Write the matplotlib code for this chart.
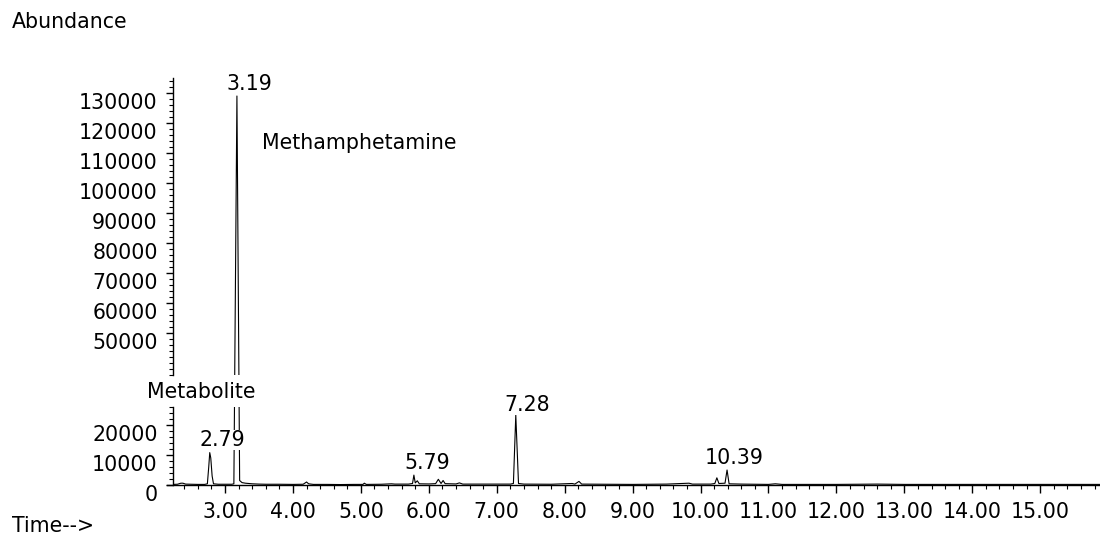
"""Total ion chromatogram with a broken abundance axis."""

import matplotlib

matplotlib.use("Agg")
import matplotlib.pyplot as plt
from matplotlib.ticker import MultipleLocator

plt.rcParams["font.family"] = ["DejaVu Sans"]
plt.rcParams["font.size"] = 14.8

# retention time (min) and abundance
times = [
    2.234, 2.30, 2.35, 2.38, 2.42, 2.50, 2.60, 2.70, 2.74, 2.76, 2.775, 2.79,
    2.81, 2.83, 2.90, 3.00, 3.10, 3.13, 3.175, 3.215, 3.25, 3.30, 3.40, 3.50,
    3.60, 3.80, 4.00, 4.15, 4.20, 4.23, 4.30, 4.50, 4.70, 4.90, 5.03, 5.05,
    5.08, 5.30, 5.45, 5.50, 5.70, 5.76, 5.78, 5.80, 5.83, 5.86, 6.00, 6.10,
    6.14, 6.18, 6.21, 6.24, 6.40, 6.45, 6.50, 7.00, 7.20, 7.245, 7.28, 7.32,
    7.40, 7.80, 8.11, 8.15, 8.21, 8.25, 8.60, 9.00, 9.50, 9.83, 9.88, 10.15,
    10.21, 10.24, 10.27, 10.36, 10.39, 10.42, 10.60, 11.00, 11.10, 11.20,
    12.00, 12.60, 13.00, 14.00, 15.00, 15.88,
]
abundance = [
    200, 250, 600, 600, 300, 250, 200, 200, 400, 6000, 10800, 9000,
    3000, 400, 250, 250, 250, 400, 129000, 1500, 800, 600, 400, 300,
    250, 250, 200, 250, 1000, 400, 200, 200, 150, 200, 200, 600,
    200, 250, 400, 300, 300, 500, 3300, 700, 1400, 400, 350, 450,
    1900, 500, 1500, 450, 350, 700, 300, 300, 300, 500, 23300, 500,
    300, 250, 500, 300, 1200, 300, 250, 200, 300, 600, 300, 300,
    500, 2400, 500, 600, 5000, 400, 300, 200, 400, 200,
    200, 300, 200, 200, 200, 200,
]

x_major = [3, 4, 5, 6, 7, 8, 9, 10, 11, 12, 13, 14, 15]
low_ticks = [0, 10000, 20000]
high_ticks = [50000, 60000, 70000, 80000, 90000, 100000, 110000, 120000, 130000]

# peak annotations: text, time, abundance (placed on the lower axes)
peak_labels = [
    ("2.79", 2.956, 15000),
    ("5.79", 5.98, 7300),
    ("7.28", 7.45, 26700),
    ("10.39", 10.50, 9000),
]

W, H = 1100, 536
fig = plt.figure(figsize=(W / 100, H / 100), dpi=100)
left, right = 173 / W, 927 / W
ax_hi = fig.add_axes([left, (H - 375) / H, right, 297 / H])
ax_lo = fig.add_axes([left, (H - 485) / H, right, 78 / H])

for ax in (ax_hi, ax_lo):
    ax.plot(times, abundance, color="black", lw=0.8)
    ax.set_xlim(2.234, 15.88)
    ax.spines["top"].set_visible(False)
    ax.spines["right"].set_visible(False)
    ax.spines["left"].set_linewidth(1.0)
    ax.yaxis.set_minor_locator(MultipleLocator(2000))
    ax.tick_params(axis="y", which="major", direction="out", length=5, width=1, pad=6)
    ax.tick_params(axis="y", which="minor", direction="out", length=3, width=0.8)

ax_hi.set_ylim(36000, 135000)
ax_hi.spines["bottom"].set_visible(False)
ax_hi.set_xticks([])
ax_hi.set_yticks(high_ticks, [str(v) for v in high_ticks])

ax_lo.set_ylim(0, 26000)
ax_lo.set_yticks(low_ticks, [str(v) for v in low_ticks])
ax_lo.set_xticks(x_major, [f"{v:.2f}" for v in x_major])
ax_lo.xaxis.set_minor_locator(MultipleLocator(0.2))
ax_lo.spines["bottom"].set_linewidth(1.0)
ax_lo.spines["bottom"].set_bounds(2.145, 15.88)
ax_lo.spines["bottom"].set_clip_on(False)
ax_lo.tick_params(axis="x", which="major", direction="out", length=6, width=1, pad=6)
ax_lo.tick_params(axis="x", which="minor", direction="out", length=3, width=0.8)

for ax in (ax_hi, ax_lo):
    plt.setp(ax.get_yticklabels(), va="top")

for text, t, a in peak_labels:
    ax_lo.text(t, a, text, ha="center", va="center", clip_on=False,
               bbox=dict(facecolor="white", edgecolor="none", pad=0))

ax_lo.text(2.647, 31000, "Metabolite", ha="center", va="center", clip_on=False)
ax_hi.text(3.353, 133000, "3.19", ha="center", va="center", clip_on=False)
ax_hi.text(3.545, 113300, "Methamphetamine", ha="left", va="center")

fig.text(12 / W, 1 - 22 / H, "Abundance", ha="left", va="center")
fig.text(12 / W, 1 - 526 / H, "Time-->", ha="left", va="center")

fig.savefig("out.png", dpi=100)
